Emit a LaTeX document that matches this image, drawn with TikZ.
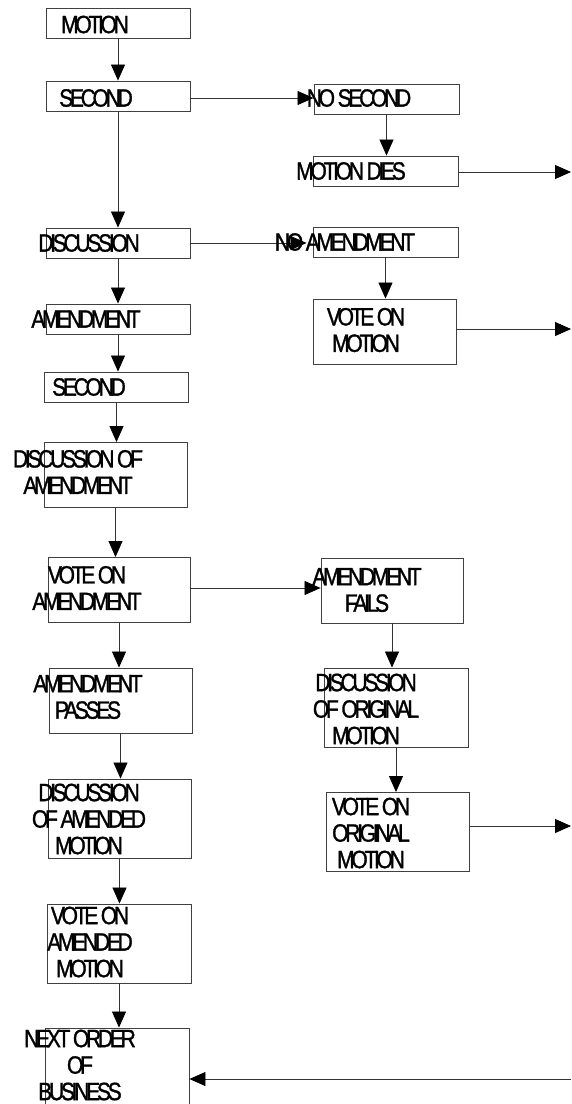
\documentclass[tikz,border=0pt]{standalone}
\usepackage{fontspec}
\setmainfont{Liberation Sans}[FakeStretch=0.84,LetterSpace=-13,FakeBold=1.2]
\usetikzlibrary{arrows.meta}

\tikzset{
  box/.style={draw=black!75, line width=0.9pt, minimum width=144pt, minimum height=30pt, inner sep=0pt},
  boxtwo/.style={box, minimum height=65pt},
  boxthree/.style={box, minimum height=79pt},
  lbl/.style={inner sep=0pt, align=center, font=\fontsize{25}{26.5}\selectfont},
  arr/.style={draw=black!80, line width=0.8pt, -{Triangle[length=16pt,width=14pt,color=black]}},
}

\begin{document}
\begin{tikzpicture}[x=1pt,y=-1pt]
\useasboundingbox (0,0) rectangle (571,1104);

% left column
\node[box] (motion) at (118,23) {};
\node[box] (second) at (118,96) {};
\node[box] (discussion) at (118,243) {};
\node[box] (amendment) at (118,319) {};
\node[box] (secondAm) at (116.5,387) {};
\node[boxtwo, minimum width=143pt] (discAmend) at (115.5,475) {};
\node[boxtwo, minimum width=142pt] (voteAmend) at (119,590) {};
\node[boxtwo, minimum width=143pt] (amendPasses) at (120.5,700.5) {};
\node[boxthree, minimum width=143pt] (discAmended) at (119.5,818.5) {};
\node[boxthree] (voteAmended) at (119,943.5) {};
\node[boxthree, minimum height=82pt] (nextOrder) at (117,1069) {};

% right column
\node[box, minimum width=145pt] (noSecond) at (386.5,99) {};
\node[box, minimum width=145pt] (motionDies) at (385.5,171) {};
\node[box, minimum width=145pt] (noAmend) at (385.5,242) {};
\node[boxtwo, minimum width=143pt] (voteMotion) at (384.5,331.5) {};
\node[boxtwo, minimum width=142pt] (amendFails) at (392,590.5) {};
\node[boxthree] (discOrig) at (396,707.5) {};
\node[boxthree, minimum width=143pt] (voteOrig) at (397.5,832) {};

% free ends at the right edge
\coordinate (outDies) at (571,172);
\coordinate (outVote) at (571,329);
\coordinate (outOrig) at (571,826);
\coordinate (backIn) at (571,1079);

% down the left side
\draw[arr] (motion.south) -- (motion.south |- second.north);
\draw[arr] (second.south) -- (second.south |- discussion.north);
\draw[arr] (discussion.south) -- (discussion.south |- amendment.north);
\draw[arr] (amendment.south) -- (amendment.south |- secondAm.north);
\draw[arr] (secondAm.south) -- (secondAm.south |- discAmend.north);
\draw[arr] (discAmend.south) -- (discAmend.south |- voteAmend.north);
\draw[arr] (voteAmend.south) -- (voteAmend.south |- amendPasses.north);
\draw[arr] (amendPasses.south) -- (amendPasses.south |- discAmended.north);
\draw[arr] (discAmended.south) -- (discAmended.south |- voteAmended.north);
\draw[arr] (voteAmended.south) -- (voteAmended.south |- nextOrder.north);

% across and down the right side
\draw[arr] ([yshift=-2pt]second.east) -- ([yshift=-2pt]second.east -| noSecond.west);
\draw[arr] (noSecond.south) -- (noSecond.south |- motionDies.north);
\draw[arr] (discussion.east) -- ([xshift=-6pt]discussion.east -| noAmend.west);
\draw[arr] (noAmend.south) -- (noAmend.south |- voteMotion.north);
\draw[arr] ([yshift=2pt]voteAmend.east) -- ([yshift=2pt]voteAmend.east -| amendFails.west);
\draw[arr] (amendFails.south) -- (amendFails.south |- discOrig.north);
\draw[arr] (discOrig.south) -- (discOrig.south |- voteOrig.north);

% out to the edge and back
\draw[arr] (motionDies.east |- outDies) -- (outDies);
\draw[arr] (voteMotion.east |- outVote) -- (outVote);
\draw[arr] (voteOrig.east |- outOrig) -- (outOrig);
\draw[arr] (backIn) -- (backIn -| nextOrder.east);

% texts
\node[lbl] (motion-t) at (95,24.5) {MOTION};
\node[lbl] (second-t) at (96,98) {SECOND};
\node[lbl] (discussion-t) at (89,243) {DISCUSSION};
\node[lbl] (amendment-t) at (86,319) {AMENDMENT};
\node[lbl] (secondAm-t) at (89,387) {SECOND};
\node[lbl] (discAmend-t) at (78,472) {DISCUSSION OF\\AMENDMENT};
\node[lbl] (voteAmend-t) at (87,588) {VOTE ON\\AMENDMENT};
\node[lbl] (amendPasses-t) at (88,697) {AMENDMENT\\PASSES};
\node[lbl] (discAmended-t) at (89,819) {DISCUSSION\\OF AMENDED\\MOTION};
\node[lbl] (voteAmended-t) at (90,942) {VOTE ON\\AMENDED\\MOTION};
\node[lbl] (nextOrder-t) at (80,1065) {NEXT ORDER\\OF\\BUSINESS};
\node[lbl] (noSecond-t) at (359,98) {NO SECOND};
\node[lbl] (motionDies-t) at (351,171) {MOTION DIES};
\node[lbl] (noAmend-t) at (345,242) {NO AMENDMENT};
\node[lbl] (voteMotion-t) at (366,330) {VOTE ON\\MOTION};
\node[lbl] (amendFails-t) at (367,590) {AMENDMENT\\FAILS};
\node[lbl] (discOrig-t) at (366,709) {DISCUSSION\\OF ORIGINAL\\MOTION};
\node[lbl] (voteOrig-t) at (371,833) {VOTE ON\\ORIGINAL\\MOTION};
\end{tikzpicture}
\end{document}
